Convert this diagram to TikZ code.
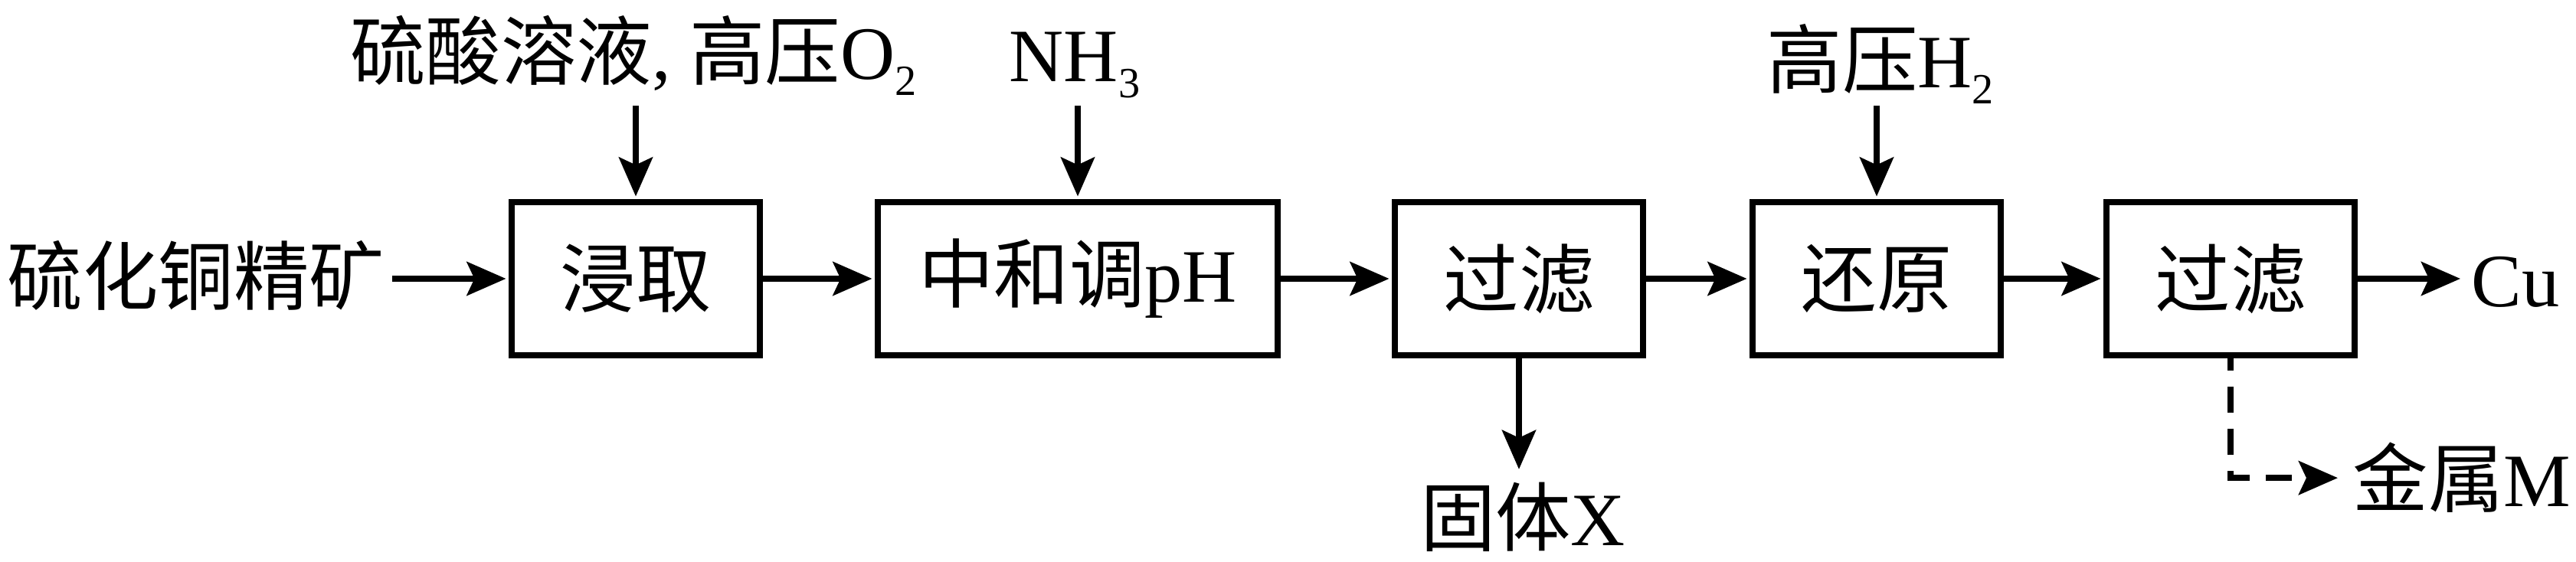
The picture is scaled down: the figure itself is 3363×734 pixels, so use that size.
\documentclass[tikz,border=0pt]{standalone}
\usepackage{fontspec}
\setmainfont{Liberation Serif}
\newfontfamily\cjk{Noto Sans CJK SC}
\usetikzlibrary{arrows.meta}
\newcommand\sbs[1]{\raisebox{-0.2cm}{\fontsize{16}{16}\selectfont #1}}
\begin{document}
\begin{tikzpicture}[x=0.01cm,y=-0.01cm,
  lbl/.style={inner sep=0pt, font=\fontsize{28}{34}\selectfont},
  proc/.style={draw, line width=0.075cm, minimum height=2cm, inner sep=0pt, font=\fontsize{28}{34}\selectfont\cjk},
  flow/.style={line width=0.075cm, shorten >=0.037cm, -{Stealth[length=0.51cm,width=0.44cm,inset=0.1cm]}},
  dflow/.style={flow, dash pattern=on 0.34cm off 0.21cm, dash phase=0.18cm}]
\useasboundingbox (0,0) rectangle (3363,734);
% process boxes
\node[proc, minimum width=3.24cm] (B1) at (830,364) {浸取};
\node[proc, minimum width=5.22cm] (B2) at (1407,364) {中和调{\rmfamily pH}};
\node[proc, minimum width=3.24cm] (B3) at (1983,364) {过滤};
\node[proc, minimum width=3.24cm] (B4) at (2450,364) {还原};
\node[proc, minimum width=3.24cm] (B5) at (2912,364) {过滤};
% labels
\node[lbl, anchor=base east] (src) at (503,398) {\cjk 硫化铜精矿};
\node[lbl, anchor=base] (t1) at (827,104) {{\cjk 硫酸溶液}, {\cjk 高压}O\sbs{2}};
\node[lbl, anchor=base] (t2) at (1403,107) {NH\sbs{3}};
\node[lbl, anchor=base] (t3) at (2455,115) {{\cjk 高压}H\sbs{2}};
\node[lbl, anchor=base] (X) at (1988,713) {{\cjk 固体}X};
\node[lbl, anchor=base west] (Cu) at (3226,401) {Cu};
\node[lbl, anchor=base west] (M) at (3071,662) {{\cjk 金属}M};
% feed arrows
\coordinate (a1) at (830,138);
\coordinate (a2) at (1407,138);
\coordinate (a3) at (2450,138);
\draw[flow] (a1) -- (B1.north);
\draw[flow] (a2) -- (B2.north);
\draw[flow] (a3) -- (B4.north);
% main flow
\draw[flow] ([xshift=0.09cm]src.east |- B1.west) -- (B1.west);
\draw[flow] (B1) -- (B2);
\draw[flow] (B2) -- (B3);
\draw[flow] (B3) -- (B4);
\draw[flow] (B4) -- (B5);
\draw[flow, shorten >=0.14cm] (B5.east) -- (B5.east -| Cu.west);
\draw[flow, shorten >=0.17cm] (B3.south) -- (B3.south |- X.north);
\draw[dflow, shorten >=0.19cm] (B5.south) |- (M.west);
\end{tikzpicture}
\end{document}
